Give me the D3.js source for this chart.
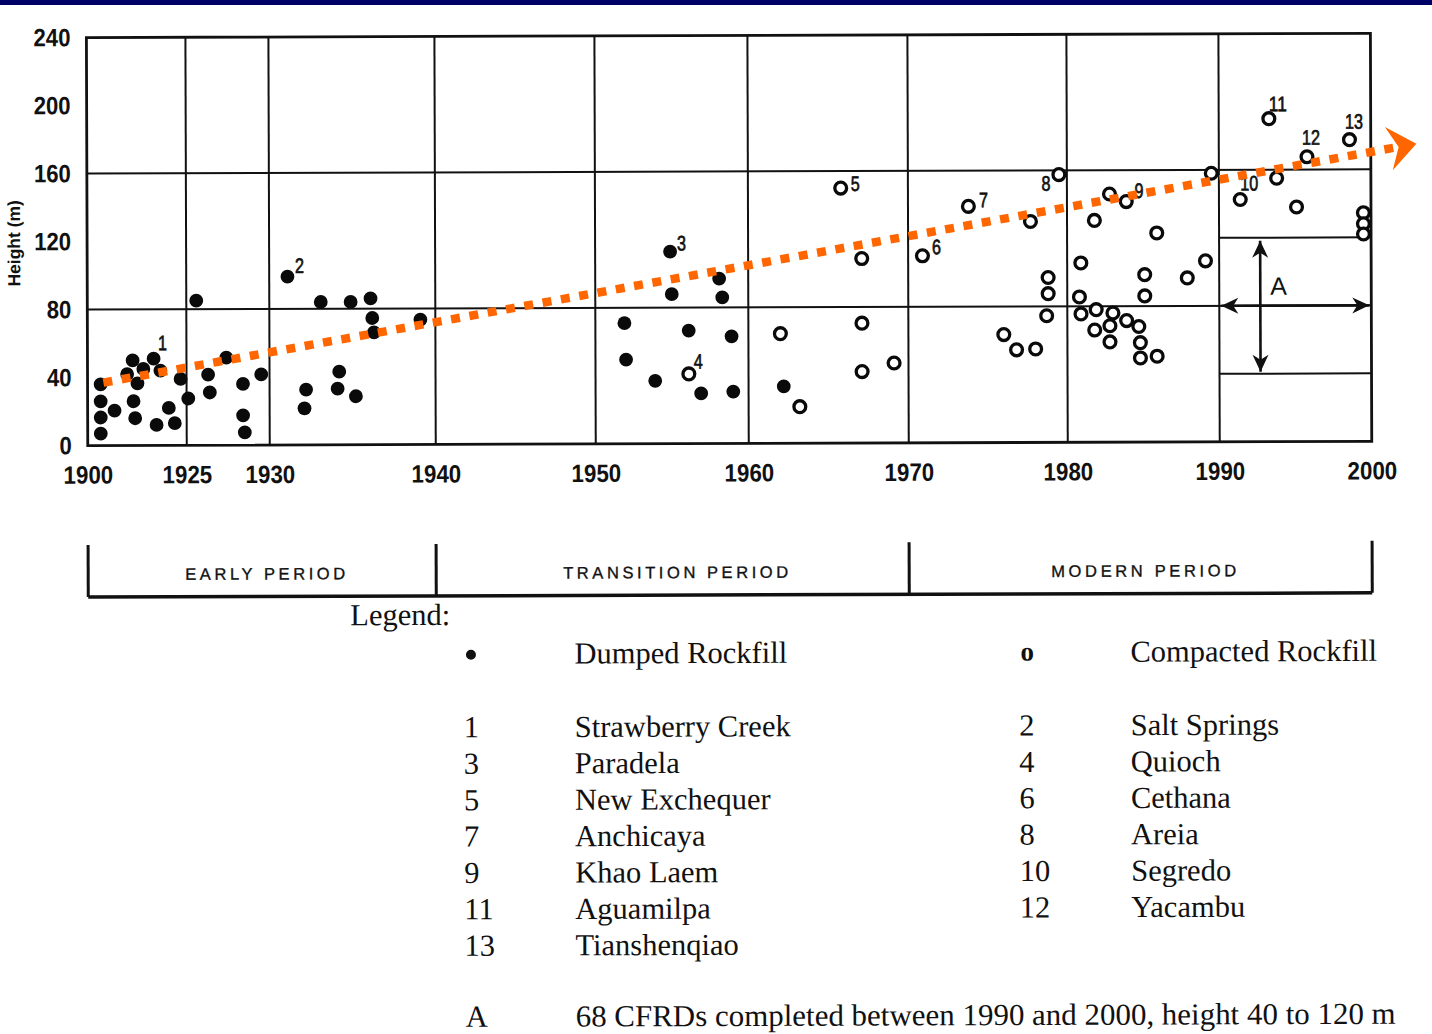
<!DOCTYPE html>
<html>
<head>
<meta charset="utf-8">
<script src="https://cdn.jsdelivr.net/npm/d3@7"></script>
<style>
  html, body { margin: 0; padding: 0; background: #fff; }
  svg { display: block; }
</style>
</head>
<body>
<svg id="chart" width="1432" height="1034"></svg>
<script>
// ---------------- data ----------------
const yearTicks = [1900, 1925, 1930, 1940, 1950, 1960, 1970, 1980, 1990, 2000];
const heightTicks = [0, 40, 80, 120, 160, 200, 240];

// [year completed, height in m]
const dumpedRockfill = [
  [1903.3, 36], [1903.3, 26], [1903.3, 16.5], [1903.3, 7],
  [1906.8, 20.5], [1910.0, 42], [1911.4, 50], [1912.6, 36.5], [1911.6, 26], [1912.0, 16],
  [1914.1, 45], [1916.7, 51], [1918.4, 44], [1917.4, 12], [1920.5, 22], [1922.0, 13],
  [1923.5, 39], [1925.1, 27.5], [1925.6, 85], [1926.3, 41.5], [1926.4, 31], [1927.4, 51.5],
  [1928.4, 36], [1928.4, 17.5], [1928.5, 7.5], [1929.5, 41.5],
  [1931.1, 99], [1932.2, 32.5], [1932.1, 21.5], [1933.1, 84], [1934.2, 43], [1934.1, 33],
  [1934.9, 84], [1935.2, 28.5], [1936.1, 86], [1936.2, 74.5], [1936.3, 66], [1939.1, 73.5],
  [1954.9, 113], [1955.0, 88], [1958.1, 97], [1958.3, 86], [1951.9, 71], [1956.1, 66.5],
  [1958.9, 63], [1952.0, 49.5], [1953.9, 37], [1956.9, 29.5], [1959.0, 30.5], [1962.2, 33.5]
];

const compactedRockfill = [
  [1956.1, 41], [1962.0, 64.5], [1963.2, 21.5], [1965.8, 150], [1967.1, 108.5], [1967.1, 70.5],
  [1967.1, 42], [1969.1, 47], [1970.9, 110], [1973.8, 139], [1977.7, 130], [1976.0, 63.5],
  [1976.8, 54.5], [1978.0, 55], [1978.8, 97], [1978.8, 87.5], [1978.7, 74.5], [1979.5, 157.5],
  [1980.9, 105.5], [1980.8, 85.5], [1980.9, 75.5], [1981.8, 130.5], [1982.8, 146], [1983.9, 141.5],
  [1981.9, 78], [1983.0, 76], [1981.8, 66], [1982.8, 68.5], [1982.8, 59], [1983.9, 71.5],
  [1984.7, 68], [1984.8, 58.5], [1984.8, 49.5], [1985.9, 50.5], [1985.1, 98.5], [1985.1, 86],
  [1985.9, 123], [1987.9, 96.5], [1989.1, 106.5], [1989.5, 158],
  [1991.4, 142.5], [1993.3, 190], [1993.8, 155], [1995.1, 138], [1995.8, 167.5], [1998.6, 177.5],
  [1999.5, 134.5], [1999.5, 128], [1999.5, 122]
];

// numbered dams: [number, year, height]
const namedDams = [
  [1, 1916.7, 51], [2, 1931.1, 99], [3, 1954.9, 113], [4, 1956.1, 41], [5, 1965.8, 150],
  [6, 1970.9, 110], [7, 1973.8, 139], [8, 1979.5, 157.5], [9, 1983.9, 141.5], [10, 1991.4, 142.5],
  [11, 1993.3, 190], [12, 1995.8, 167.5], [13, 1998.6, 177.5]
];
const damNames = [
  "Strawberry Creek", "Salt Springs", "Paradela", "Quioch", "New Exchequer", "Cethana",
  "Anchicaya", "Areia", "Khao Laem", "Segredo", "Aguamilpa", "Yacambu", "Tianshenqiao"
];

const periodNames = ["EARLY PERIOD", "TRANSITION PERIOD", "MODERN PERIOD"];
const periodBounds = [1900, 1940, 1970, 2000];

// trend arrow: start and tip as [year, height]
const trendStart = [1904, 37];
const trendTip = [2003, 175];

// zone A: years 1990-2000, heights 40-120 m
const zoneYears = [1990, 2000];
const zoneHeights = [40, 120];
const zoneNote = "68 CFRDs completed between 1990 and 2000, height 40 to 120 m";

const legendTypes = ["Dumped Rockfill", "Compacted Rockfill"];

// ---------------- layout ----------------
const SANS = "'Liberation Sans', Arial, sans-serif";
const SERIF = "'Liberation Serif', 'Times New Roman', serif";
const ORANGE = "#ff6600";

// condensed look for the numeric labels: fixed advance per character
function condense(sel, perChar) {
  sel.attr("textLength", function () { return this.textContent.length * perChar; })
     .attr("lengthAdjust", "spacingAndGlyphs");
}

// where each number sits relative to its dam marker (text left edge, baseline)
const labelNudge = {
  1: [4.5, -8.5], 2: [7.5, -3.5], 3: [7, -1], 4: [5, -5], 5: [10, 3], 6: [9.5, -1.5],
  7: [10.5, 1], 8: [-17.5, 16], 9: [8.4, -3.5], 10: [0, -9], 11: [0, -7.5], 12: [-5, -12], 13: [-4.5, -11]
};
const periodTextWidth = [160, 225, 185];

const svg = d3.select("#chart");
svg.append("rect").attr("width", 1432).attr("height", 1034).attr("fill", "#fff");
svg.append("rect").attr("x", 0).attr("y", 0).attr("width", 1432).attr("height", 5).attr("fill", "#000066");

// the whole sheet sits with a very slight counter-clockwise skew
const sheet = svg.append("g").attr("transform", "rotate(-0.19, 716, 517)");

const x = d3.scaleLinear()
  .domain(yearTicks)
  .range([88, 187, 270, 436, 596, 749, 909, 1068, 1220, 1372]);
const y = d3.scaleLinear().domain([0, 240]).range([443.5, 35.5]);

// ---- grid ----
const grid = sheet.append("g").attr("stroke", "#111").attr("stroke-width", 2).attr("fill", "none");
grid.selectAll("line.vgrid").data(yearTicks.slice(1, -1)).join("line").attr("class", "vgrid")
  .attr("x1", d => x(d)).attr("x2", d => x(d)).attr("y1", y(0)).attr("y2", y(240));
grid.selectAll("line.hgrid").data([80, 160]).join("line").attr("class", "hgrid")
  .attr("x1", x(1900)).attr("x2", x(2000)).attr("y1", d => y(d)).attr("y2", d => y(d));
grid.selectAll("line.zone").data(zoneHeights).join("line").attr("class", "zone")
  .attr("x1", x(zoneYears[0])).attr("x2", x(zoneYears[1])).attr("y1", d => y(d)).attr("y2", d => y(d));

sheet.append("rect")
  .attr("x", x(1900)).attr("y", y(240))
  .attr("width", x(2000) - x(1900)).attr("height", y(0) - y(240))
  .attr("fill", "none").attr("stroke", "#111").attr("stroke-width", 2.8);

// ---- axes ----
const yAxis = sheet.append("g").attr("transform", `translate(${x(1900)},0)`)
  .call(d3.axisLeft(y).tickValues(heightTicks).tickSize(0).tickPadding(16));
yAxis.select(".domain").remove();
yAxis.selectAll("text")
  .attr("font-family", SANS).attr("font-weight", "bold").attr("font-size", 25).attr("fill", "#111")
  .call(condense, 12.3);

const xAxis = sheet.append("g").attr("transform", `translate(0,${y(0)})`)
  .call(d3.axisBottom(x).tickValues(yearTicks).tickFormat(d3.format("d")).tickSize(0));
xAxis.select(".domain").remove();
xAxis.selectAll("text")
  .attr("y", 38).attr("dy", null)
  .attr("font-family", SANS).attr("font-weight", "bold").attr("font-size", 25).attr("fill", "#111")
  .call(condense, 12.4);

sheet.append("text")
  .attr("transform", "translate(21,241) rotate(-90)")
  .attr("text-anchor", "middle")
  .attr("font-family", SANS).attr("font-weight", "bold").attr("font-size", 17.5).attr("fill", "#111")
  .text("Height (m)");

// ---- zone A arrows ----
const headPath = "M0,0 L-17,-8 L-12,0 L-17,8 Z";
function arrow(g, x1, y1, x2, y2) {
  const ang = Math.atan2(y2 - y1, x2 - x1) * 180 / Math.PI;
  g.append("line").attr("x1", x1).attr("y1", y1).attr("x2", x2).attr("y2", y2)
    .attr("stroke", "#111").attr("stroke-width", 2.6);
  g.append("path").attr("d", headPath).attr("fill", "#111")
    .attr("transform", `translate(${x2},${y2}) rotate(${ang})`);
  g.append("path").attr("d", headPath).attr("fill", "#111")
    .attr("transform", `translate(${x1},${y1}) rotate(${ang + 180})`);
}
const zone = sheet.append("g");
arrow(zone, x(zoneYears[0]) + 2, y(80), x(zoneYears[1]) - 2, y(80));
const zoneMid = x(zoneYears[0]) + (x(zoneYears[1]) - x(zoneYears[0])) * 0.27;
arrow(zone, zoneMid, y(zoneHeights[1]) + 3, zoneMid, y(zoneHeights[0]) - 2);
zone.append("text").attr("x", zoneMid + 10).attr("y", y(80) - 11)
  .attr("font-family", SANS).attr("font-size", 25).attr("fill", "#111").text("A");

// ---- dams ----
const marks = sheet.append("g");
marks.selectAll("circle.dumped").data(dumpedRockfill).join("circle").attr("class", "dumped")
  .attr("cx", d => x(d[0])).attr("cy", d => y(d[1])).attr("r", 6.9).attr("fill", "#0a0a0a");
marks.selectAll("circle.compacted").data(compactedRockfill).join("circle").attr("class", "compacted")
  .attr("cx", d => x(d[0])).attr("cy", d => y(d[1])).attr("r", 5.9)
  .attr("fill", "#fff").attr("stroke", "#0a0a0a").attr("stroke-width", 3.3);

marks.selectAll("text.num").data(namedDams).join("text").attr("class", "num")
  .attr("x", d => x(d[1]) + labelNudge[d[0]][0])
  .attr("y", d => y(d[2]) + labelNudge[d[0]][1])
  .attr("font-family", SANS).attr("font-size", 21).attr("fill", "#111")
  .attr("stroke", "#111").attr("stroke-width", 0.7)
  .text(d => d[0])
  .call(condense, 9);

// ---- trend arrow ----
const p0 = [x(trendStart[0]), y(trendStart[1])];
const p1 = [x(trendTip[0]), y(trendTip[1])];
const ang = Math.atan2(p1[1] - p0[1], p1[0] - p0[0]);
const notch = 18;
sheet.append("line")
  .attr("x1", p0[0]).attr("y1", p0[1])
  .attr("x2", p1[0] - notch * Math.cos(ang)).attr("y2", p1[1] - notch * Math.sin(ang))
  .attr("stroke", ORANGE).attr("stroke-width", 8.5).attr("stroke-dasharray", "9 9.6");
sheet.append("path")
  .attr("d", "M0,0 L-28,-22 L-18,0 L-28,22 Z")
  .attr("fill", ORANGE)
  .attr("transform", `translate(${p1[0]},${p1[1]}) rotate(${ang * 180 / Math.PI})`);

// ---- period bar ----
const periodG = sheet.append("g");
periodG.selectAll("line.tick").data(periodBounds).join("line").attr("class", "tick")
  .attr("x1", d => x(d)).attr("x2", d => x(d)).attr("y1", 543).attr("y2", 595)
  .attr("stroke", "#111").attr("stroke-width", 3);
periodG.append("line")
  .attr("x1", x(periodBounds[0])).attr("x2", x(periodBounds[periodBounds.length - 1]))
  .attr("y1", 595).attr("y2", 595).attr("stroke", "#111").attr("stroke-width", 3.5);
periodG.selectAll("text").data(periodNames).join("text")
  .attr("x", (d, i) => (x(periodBounds[i]) + x(periodBounds[i + 1])) / 2 + 3)
  .attr("y", 578)
  .attr("text-anchor", "middle")
  .attr("font-family", SANS).attr("font-size", 16.5).attr("fill", "#111")
  .attr("stroke", "#111").attr("stroke-width", 0.35)
  .attr("textLength", (d, i) => periodTextWidth[i])
  .attr("lengthAdjust", "spacing")
  .text(d => d);

// ---- legend ----
const legend = sheet.append("g").attr("font-family", SERIF).attr("font-size", 30.5).attr("fill", "#111");
legend.append("text").attr("x", 350).attr("y", 624).text("Legend:");
legend.append("circle").attr("cx", 470.5).attr("cy", 654).attr("r", 5).attr("fill", "#111");
legend.append("text").attr("x", 574).attr("y", 663).text(legendTypes[0]);
legend.append("text").attr("x", 1020).attr("y", 661.5).attr("font-weight", "bold").attr("font-size", 27).text("o");
legend.append("text").attr("x", 1130).attr("y", 663).text(legendTypes[1]);

const rowY = i => 736.5 + i * 36.4;
const entries = damNames.map((name, i) => ({ n: i + 1, name }));
legend.selectAll("text.dnum").data(entries).join("text").attr("class", "dnum")
  .attr("x", d => d.n % 2 ? 463 : 1018.5)
  .attr("y", d => rowY(Math.floor((d.n - 1) / 2)))
  .text(d => d.n);
legend.selectAll("text.dname").data(entries).join("text").attr("class", "dname")
  .attr("x", d => d.n % 2 ? 574 : 1130)
  .attr("y", d => rowY(Math.floor((d.n - 1) / 2)))
  .text(d => d.name);

legend.append("text").attr("x", 464).attr("y", 1026).text("A");
legend.append("text").attr("x", 574).attr("y", 1026)
  .attr("textLength", 820).attr("lengthAdjust", "spacingAndGlyphs")
  .text(zoneNote);
</script>
</body>
</html>
